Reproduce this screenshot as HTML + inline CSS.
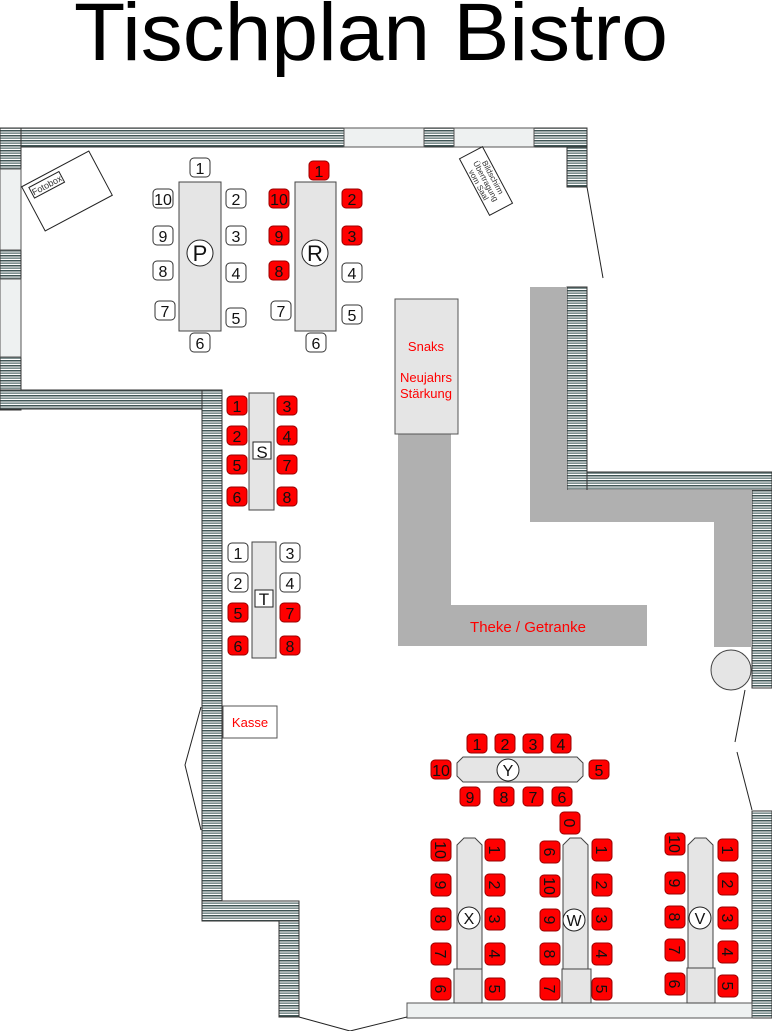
<!DOCTYPE html>
<html><head><meta charset="utf-8"><style>
html,body{margin:0;padding:0;background:#fff;}
svg{display:block;}
</style></head><body>
<svg width="772" height="1031" viewBox="0 0 772 1031" xmlns="http://www.w3.org/2000/svg" font-family="Liberation Sans, Arial, sans-serif">
<defs>
<pattern id="h" width="8" height="5" patternUnits="userSpaceOnUse">
<rect width="8" height="5" fill="#fff"/>
<rect y="0" width="8" height="1.5" fill="#3f5555"/>
<rect y="2.5" width="8" height="1.3" fill="#5f7575"/>
</pattern>
</defs>
<text x="74" y="60" font-size="82" textLength="594" lengthAdjust="spacingAndGlyphs" fill="#000">Tischplan Bistro</text>

<g stroke="#333" stroke-width="1" fill="url(#h)">
<rect x="0" y="128" width="587" height="19"/>
<rect x="0" y="128" width="21" height="282"/>
<rect x="0" y="390" width="222" height="19"/>
<rect x="202" y="390" width="20" height="511"/>
<rect x="202" y="901" width="97" height="20"/>
<rect x="279" y="921" width="20" height="96"/>
<rect x="567" y="147" width="20" height="40"/>
<rect x="567" y="287" width="20" height="203"/>
<rect x="587" y="472" width="185" height="18"/>
<rect x="752" y="490" width="20" height="198"/>
<rect x="752" y="811" width="20" height="207"/>
</g>
<g fill="#eef1f1" stroke="#555" stroke-width="1">
<rect x="344" y="128" width="80" height="19"/>
<rect x="454" y="128" width="80" height="19"/>
<rect x="0" y="169" width="21" height="81"/>
<rect x="0" y="279" width="21" height="78"/>
<rect x="407" y="1003" width="345" height="15"/>
</g>
<g stroke="#222" fill="none" stroke-width="1">
<polyline points="587,187 603,278"/>
<polyline points="745,690 735,742"/>
<polyline points="737,752 752,810"/>
<polyline points="201,707 185,765 201,830"/>
<polyline points="299,1017 350,1031 407,1017"/>
</g>

<g fill="#b0b0b0">
<rect x="530" y="287" width="37" height="235"/>
<rect x="530" y="490" width="222" height="32"/>
<rect x="714" y="490" width="38" height="157"/>
<rect x="398" y="434" width="53" height="212"/>
<rect x="398" y="605" width="249" height="41"/>
</g>
<circle cx="731" cy="670" r="20" fill="#e5e5e5" stroke="#444"/>
<rect x="395" y="299" width="63" height="135" fill="#e5e5e5" stroke="#555"/>
<g fill="#f00" font-size="13" text-anchor="middle">
<text x="426" y="351">Snaks</text>
<text x="426" y="382">Neujahrs</text>
<text x="426" y="398">Stärkung</text>
<text x="528" y="632" font-size="15">Theke / Getranke</text>
</g>
<rect x="223" y="706" width="54" height="32" fill="#fff" stroke="#555"/>
<text x="250" y="727" fill="#f00" font-size="13" text-anchor="middle">Kasse</text>

<g transform="translate(67,191) rotate(-28)">
<rect x="-38" y="-25" width="76" height="50" fill="#fff" stroke="#222"/>
<rect x="-32" y="-21" width="34" height="12" fill="#fff" stroke="#222"/>
<text x="-15" y="-11.5" font-size="9" text-anchor="middle" fill="#333">Fotobox</text>
</g>
<g transform="translate(486,181) rotate(62)">
<rect x="-32" y="-13" width="64" height="26" fill="#fff" stroke="#222"/>
<g font-size="8" text-anchor="middle" fill="#333">
<text x="0" y="-5">Bildschirm</text>
<text x="0" y="3">Übertragung</text>
<text x="0" y="11">vom Saal</text>
</g>
</g>

<g fill="#e5e5e5" stroke="#444">
<rect x="179" y="182" width="42" height="149"/>
<rect x="295" y="182" width="41" height="149"/>
<rect x="249" y="393" width="25" height="117"/>
<rect x="252" y="542" width="24" height="116"/>
<polygon points="463,757 577,757 583,763 583,776 577,782 463,782 457,776 457,763"/>
<polygon points="457,845 464,838 475,838 482,845 482,969 457,969"/>
<rect x="454" y="969" width="28" height="34"/>
<polygon points="563,845 570,838 581,838 588,845 588,969 563,969"/>
<rect x="562" y="969" width="29" height="34"/>
<polygon points="688,845 695,838 706,838 713,845 713,968 688,968"/>
<rect x="687" y="968" width="28" height="35"/>
</g>
<g fill="#fff" stroke="#222">
<circle cx="200" cy="253" r="13"/>
<circle cx="315" cy="253" r="13"/>
<rect x="253" y="442" width="18" height="17"/>
<rect x="255" y="590" width="18" height="17"/>
<circle cx="508" cy="770" r="11"/>
<circle cx="469" cy="918" r="11"/>
<circle cx="574" cy="920" r="11"/>
<circle cx="700" cy="918" r="11"/>
</g>
<g font-size="22" text-anchor="middle" fill="#111">
<text x="200" y="261">P</text><text x="315" y="261">R</text>
<text x="262" y="458" font-size="17">S</text><text x="264" y="605" font-size="17">T</text>
</g>
<g font-size="16" text-anchor="middle" fill="#111">
<text x="508" y="776">Y</text>
<text x="469" y="924">X</text>
<text x="574" y="926">W</text>
<text x="700" y="924">V</text>
</g>

<g font-size="16" text-anchor="middle">
<g fill="#fff" stroke="#333">
<rect x="190" y="158" width="20" height="19" rx="4"/>
<rect x="153" y="189" width="20" height="19" rx="4"/>
<rect x="153" y="226" width="20" height="19" rx="4"/>
<rect x="153" y="261" width="20" height="19" rx="4"/>
<rect x="155" y="301" width="20" height="19" rx="4"/>
<rect x="226" y="189" width="20" height="19" rx="4"/>
<rect x="226" y="226" width="20" height="19" rx="4"/>
<rect x="226" y="263" width="20" height="19" rx="4"/>
<rect x="226" y="308" width="20" height="19" rx="4"/>
<rect x="190" y="333" width="20" height="19" rx="4"/>
<rect x="271" y="301" width="20" height="19" rx="4"/>
<rect x="342" y="263" width="20" height="19" rx="4"/>
<rect x="342" y="305" width="20" height="19" rx="4"/>
<rect x="306" y="333" width="20" height="19" rx="4"/>
<rect x="228" y="543" width="20" height="19" rx="4"/>
<rect x="228" y="573" width="20" height="19" rx="4"/>
<rect x="280" y="543" width="20" height="19" rx="4"/>
<rect x="280" y="573" width="20" height="19" rx="4"/>
</g>
<g fill="#f00" stroke="#900">
<rect x="309" y="161" width="20" height="19" rx="4"/>
<rect x="269" y="189" width="20" height="19" rx="4"/>
<rect x="269" y="226" width="20" height="19" rx="4"/>
<rect x="269" y="261" width="20" height="19" rx="4"/>
<rect x="342" y="189" width="20" height="19" rx="4"/>
<rect x="342" y="226" width="20" height="19" rx="4"/>
<rect x="227" y="396" width="20" height="19" rx="4"/>
<rect x="227" y="426" width="20" height="19" rx="4"/>
<rect x="227" y="455" width="20" height="19" rx="4"/>
<rect x="227" y="487" width="20" height="19" rx="4"/>
<rect x="277" y="396" width="20" height="19" rx="4"/>
<rect x="277" y="426" width="20" height="19" rx="4"/>
<rect x="277" y="455" width="20" height="19" rx="4"/>
<rect x="277" y="487" width="20" height="19" rx="4"/>
<rect x="228" y="603" width="20" height="19" rx="4"/>
<rect x="228" y="636" width="20" height="19" rx="4"/>
<rect x="280" y="603" width="20" height="19" rx="4"/>
<rect x="280" y="636" width="20" height="19" rx="4"/>
<rect x="467" y="734" width="20" height="19" rx="4"/>
<rect x="495" y="734" width="20" height="19" rx="4"/>
<rect x="523" y="734" width="20" height="19" rx="4"/>
<rect x="551" y="734" width="20" height="19" rx="4"/>
<rect x="431" y="760" width="20" height="19" rx="4"/>
<rect x="589" y="760" width="20" height="19" rx="4"/>
<rect x="460" y="787" width="20" height="19" rx="4"/>
<rect x="494" y="787" width="20" height="19" rx="4"/>
<rect x="523" y="787" width="20" height="19" rx="4"/>
<rect x="552" y="787" width="20" height="19" rx="4"/>
</g>
<g fill="#111">
<text x="200" y="174">1</text><text x="163" y="205">10</text><text x="163" y="242">9</text><text x="163" y="277">8</text><text x="165" y="317">7</text>
<text x="236" y="205">2</text><text x="236" y="242">3</text><text x="236" y="279">4</text><text x="236" y="324">5</text><text x="200" y="349">6</text>
<text x="319" y="177">1</text><text x="279" y="205">10</text><text x="279" y="242">9</text><text x="279" y="277">8</text><text x="281" y="317">7</text>
<text x="352" y="205">2</text><text x="352" y="242">3</text><text x="352" y="279">4</text><text x="352" y="321">5</text><text x="316" y="349">6</text>
<text x="237" y="412">1</text><text x="237" y="442">2</text><text x="237" y="471">5</text><text x="237" y="503">6</text>
<text x="287" y="412">3</text><text x="287" y="442">4</text><text x="287" y="471">7</text><text x="287" y="503">8</text>
<text x="238" y="559">1</text><text x="238" y="589">2</text><text x="238" y="619">5</text><text x="238" y="652">6</text>
<text x="290" y="559">3</text><text x="290" y="589">4</text><text x="290" y="619">7</text><text x="290" y="652">8</text>
<text x="477" y="750">1</text><text x="505" y="750">2</text><text x="533" y="750">3</text><text x="561" y="750">4</text>
<text x="441" y="776">10</text><text x="599" y="776">5</text>
<text x="470" y="803">9</text><text x="504" y="803">8</text><text x="533" y="803">7</text><text x="562" y="803">6</text>
</g>
</g>

<g font-size="16" text-anchor="middle" fill="#111">
<g fill="#f00" stroke="#900">
<rect x="431" y="839" width="20" height="22" rx="4"/><rect x="431" y="874" width="20" height="22" rx="4"/><rect x="431" y="908" width="20" height="22" rx="4"/><rect x="431" y="943" width="20" height="22" rx="4"/><rect x="431" y="978" width="20" height="22" rx="4"/>
<rect x="485" y="839" width="20" height="22" rx="4"/><rect x="485" y="874" width="20" height="22" rx="4"/><rect x="485" y="908" width="20" height="22" rx="4"/><rect x="485" y="943" width="20" height="22" rx="4"/><rect x="485" y="978" width="20" height="22" rx="4"/>
<rect x="560" y="812" width="20" height="22" rx="4"/>
<rect x="540" y="841" width="20" height="22" rx="4"/><rect x="540" y="875" width="20" height="22" rx="4"/><rect x="540" y="909" width="20" height="22" rx="4"/><rect x="540" y="943" width="20" height="22" rx="4"/><rect x="540" y="978" width="20" height="22" rx="4"/>
<rect x="592" y="839" width="20" height="22" rx="4"/><rect x="592" y="874" width="20" height="22" rx="4"/><rect x="592" y="908" width="20" height="22" rx="4"/><rect x="592" y="943" width="20" height="22" rx="4"/><rect x="592" y="978" width="20" height="22" rx="4"/>
<rect x="665" y="833" width="20" height="22" rx="4"/><rect x="665" y="872" width="20" height="22" rx="4"/><rect x="665" y="906" width="20" height="22" rx="4"/><rect x="665" y="939" width="20" height="22" rx="4"/><rect x="665" y="973" width="20" height="22" rx="4"/>
<rect x="718" y="839" width="20" height="22" rx="4"/><rect x="718" y="873" width="20" height="22" rx="4"/><rect x="718" y="907" width="20" height="22" rx="4"/><rect x="718" y="941" width="20" height="22" rx="4"/><rect x="718" y="975" width="20" height="22" rx="4"/>
</g>
<g>
<text transform="translate(441,850) rotate(90)" y="6">10</text><text transform="translate(441,885) rotate(90)" y="6">9</text><text transform="translate(441,919) rotate(90)" y="6">8</text><text transform="translate(441,954) rotate(90)" y="6">7</text><text transform="translate(441,989) rotate(90)" y="6">6</text>
<text transform="translate(495,850) rotate(90)" y="6">1</text><text transform="translate(495,885) rotate(90)" y="6">2</text><text transform="translate(495,919) rotate(90)" y="6">3</text><text transform="translate(495,954) rotate(90)" y="6">4</text><text transform="translate(495,989) rotate(90)" y="6">5</text>
<text transform="translate(570,823) rotate(90)" y="6">0</text>
<text transform="translate(550,852) rotate(90)" y="6">6</text><text transform="translate(550,886) rotate(90)" y="6">10</text><text transform="translate(550,920) rotate(90)" y="6">9</text><text transform="translate(550,954) rotate(90)" y="6">8</text><text transform="translate(550,989) rotate(90)" y="6">7</text>
<text transform="translate(602,850) rotate(90)" y="6">1</text><text transform="translate(602,885) rotate(90)" y="6">2</text><text transform="translate(602,919) rotate(90)" y="6">3</text><text transform="translate(602,954) rotate(90)" y="6">4</text><text transform="translate(602,989) rotate(90)" y="6">5</text>
<text transform="translate(675,844) rotate(90)" y="6">10</text><text transform="translate(675,883) rotate(90)" y="6">9</text><text transform="translate(675,917) rotate(90)" y="6">8</text><text transform="translate(675,950) rotate(90)" y="6">7</text><text transform="translate(675,984) rotate(90)" y="6">6</text>
<text transform="translate(728,850) rotate(90)" y="6">1</text><text transform="translate(728,884) rotate(90)" y="6">2</text><text transform="translate(728,918) rotate(90)" y="6">3</text><text transform="translate(728,952) rotate(90)" y="6">4</text><text transform="translate(728,986) rotate(90)" y="6">5</text>
</g>
</g>
</svg>
</body></html>
